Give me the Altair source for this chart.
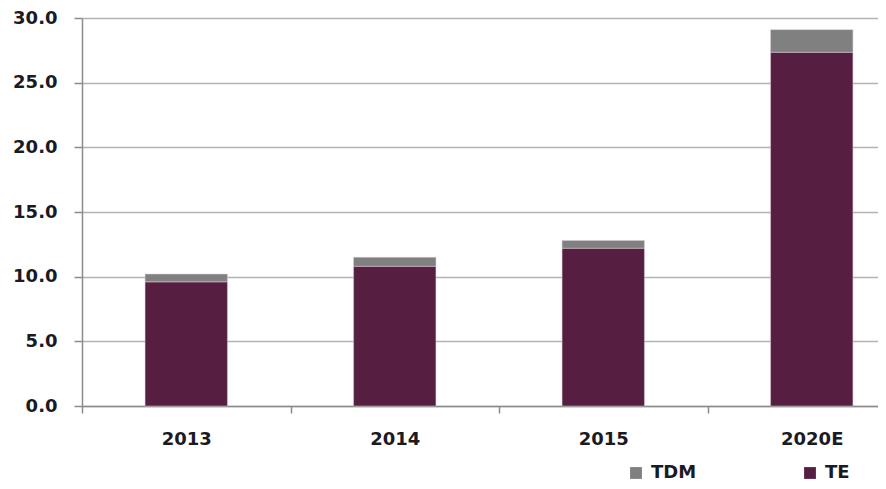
import altair as alt
import pandas as pd

years = ["2013", "2014", "2015", "2020E"]
te = [9.6, 10.8, 12.2, 27.35]
tdm = [0.6, 0.7, 0.6, 1.75]

rows = []
for y, a, b in zip(years, te, tdm):
    rows.append({"year": y, "series": "TE", "value": a, "ord": 0})
    rows.append({"year": y, "series": "TDM", "value": b, "ord": 1})
df = pd.DataFrame(rows)

FONT = "DejaVu Sans"
TXT = "#1a1a24"

chart = alt.Chart(df).mark_bar(stroke="#d9c9d3", strokeWidth=0.5,
                               width=alt.RelativeBandSize(0.395)).encode(
    x=alt.X("year:N", sort=years, title=None,
            scale=alt.Scale(paddingInner=0, paddingOuter=0, range=[0, 834]),
            axis=alt.Axis(labelAngle=0, tickBand="extent", grid=False,
                          tickSize=7, labelPadding=17, domainColor="#8c8c8c",
                          tickColor="#8c8c8c", domainWidth=1.5, tickWidth=1.5)),
    y=alt.Y("value:Q", title=None,
            scale=alt.Scale(domain=[0, 30], nice=False),
            axis=alt.Axis(values=[0, 5, 10, 15, 20, 25, 30], format=".1f",
                          tickSize=8, labelPadding=17, gridColor="#b3b3b3",
                          gridWidth=1.5, domainColor="#8c8c8c", tickColor="#8c8c8c",
                          domainWidth=1.5, tickWidth=1.5)),
    color=alt.Color("series:N",
                    scale=alt.Scale(domain=["TDM", "TE"], range=["#808080", "#561f42"]),
                    legend=alt.Legend(title=None, orient="none", direction="horizontal",
                                      legendX=545, legendY=446, symbolType="square",
                                      symbolSize=140, symbolStrokeWidth=0,
                                      columnPadding=104, labelFontSize=18,
                                      labelOffset=6,
                                      labelFontWeight="bold", labelFont=FONT,
                                      labelColor=TXT)),
    order=alt.Order("ord:Q"),
).properties(
    width=796, height=388,
    autosize=alt.AutoSizeParams(type="none"),
    padding={"left": 74, "top": 10, "right": 0, "bottom": 75},
).configure_axis(
    labelFont=FONT, labelFontSize=18, labelFontWeight="bold", labelColor=TXT,
).configure_view(stroke=None)

chart.save("out.html", embed_options={"renderer": "svg", "actions": False})
